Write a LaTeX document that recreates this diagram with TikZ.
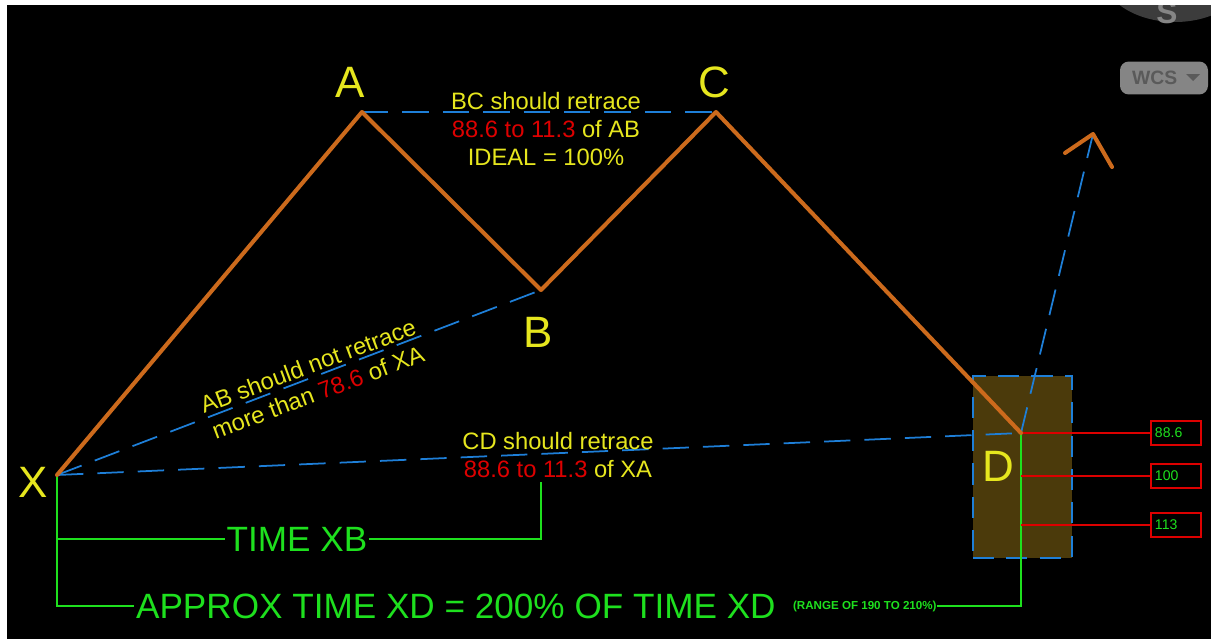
\documentclass[tikz,border=0pt]{standalone}
\usepackage{fontspec}
\setmainfont{Liberation Sans}
\usepackage{tikz}
\usetikzlibrary{positioning, arrows.meta, calc}
\definecolor{legorange}{HTML}{CC6A1C}
\definecolor{guideblue}{HTML}{1E7FD8}
\definecolor{labelyellow}{HTML}{E6E61E}
\definecolor{ratiored}{HTML}{DD0000}
\definecolor{timegreen}{HTML}{1EE01E}
\definecolor{zonebrown}{HTML}{4B3A0B}
\definecolor{uidark}{HTML}{3C3C3C}
\definecolor{uibtn}{HTML}{858585}
\definecolor{uitext}{HTML}{5A5A5A}

\newcommand{\rd}[1]{\textcolor{ratiored}{#1}}

\begin{document}
\begin{tikzpicture}[x=0.02cm, y=-0.02cm,
    leg/.style={draw=legorange, line width=2.3pt, line cap=round, line join=round},
    guide/.style={draw=guideblue, line width=1pt, dash pattern=on 15pt off 8pt},
    pointlbl/.style={text=labelyellow, font=\fontsize{25}{25}\selectfont, inner sep=0pt},
    note/.style={text=labelyellow, font=\fontsize{13.5}{16}\selectfont, align=center, inner sep=0pt},
    timeline/.style={draw=timegreen, line width=1.1pt},
    timelbl/.style={text=timegreen, font=\fontsize{20}{20}\selectfont, inner sep=1pt},
    level/.style={draw=ratiored, line width=1.1pt},
    levelbox/.style={draw=ratiored, line width=1.1pt, anchor=west, text width=0.84cm,
      inner xsep=0.08cm, minimum height=0.48cm, align=left, text=timegreen,
      font=\fontsize{8}{8}\selectfont}]
  % page and screen
  \useasboundingbox (0,0) rectangle (1211,639);
  \fill[white] (0,0) rectangle (1211,639);
  \fill[black] (7,5) rectangle (1211,639);

  % viewer widgets, top right
  \begin{scope}
    \clip (7,5) rectangle (1211,639);
    \fill[uidark] (1175,-30) ellipse [x radius=75, y radius=52];
    \node[text=uibtn, font=\bfseries\fontsize{18}{18}\selectfont] (compass) at (1167,13) {S};
  \end{scope}
  \node[fill=uibtn, rounded corners=5pt, minimum width=1.76cm, minimum height=0.66cm] (wcs) at (1164,78) {};
  \node[text=uitext, font=\fontsize{11}{11}\selectfont\bfseries, anchor=west] (wcstxt) at (1126,78) {WCS};
  \fill[uitext] (1186,74) -- (1200,74) -- (1193,81) -- cycle;

  % swing points
  \coordinate (X) at (57,475);
  \coordinate (A) at (362,112);
  \coordinate (B) at (541,290);
  \coordinate (C) at (716,112);
  \coordinate (D) at (1021,433);
  \coordinate (tip) at (1093,134);

  % D completion zone
  \node[draw=guideblue, line width=1pt, dash pattern=on 12pt off 7pt, fill=zonebrown,
        minimum width=1.98cm, minimum height=3.64cm, inner sep=0pt] (zone) at (1022.5,467) {};

  % retracement guides
  \draw[guide] (A) -- (C);
  \draw[guide] (X) -- (B);
  \draw[guide] (X) -- (D);
  \draw[guide] (D) -- (tip);

  % time measures
  \node[timelbl] (timexb) at (297,539) {TIME XB};
  \node[timelbl, anchor=west] (approx) at (134,606) {APPROX TIME XD = 200\% OF TIME XD};
  \node[text=timegreen, font=\bfseries\fontsize{6.6}{6.6}\selectfont, inner sep=0pt,
        right=0.3cm of approx] (range) {(RANGE OF 190 TO 210\%)};
  \draw[timeline] (X) |- (timexb.west);
  \draw[timeline] (timexb.east) -| (541,482);
  \draw[timeline] (X) |- (approx.west);
  \draw[timeline] (range.east) -| (D);

  % ratio levels
  \node[levelbox] (lv886) at (1150,433) {88.6};
  \node[levelbox] (lv100) at (1150,476) {100};
  \node[levelbox] (lv113) at (1150,525) {113};
  \draw[level] (D) -- (lv886.west);
  \draw[level] (1021,476) -- (lv100.west);
  \draw[level] (1021,525) -- (lv113.west);

  % the pattern legs
  \draw[leg] (X) -- (A) -- (B) -- (C) -- (D);
  \draw[leg] (1065,153) -- (tip) -- (1112,167);

  % point names
  \node[pointlbl] (xlbl) at (33,482) {X};
  \node[pointlbl] (albl) at (350,82) {A};
  \node[pointlbl] (blbl) at (538,332) {B};
  \node[pointlbl] (clbl) at (714,82) {C};
  \node[pointlbl] (dlbl) at (998,466) {D};

  % rules
  \node[note] (bcnote) at (546,129) {BC should retrace\\ \rd{88.6 to 11.3} of AB\\ IDEAL = 100\%};
  \node[note, rotate=20.5] (abnote) at (313,379) {AB should not retrace\\ more than \rd{78.6} of XA};
  \node[note] (cdnote) at (558,455) {CD should retrace\\ \rd{88.6 to 11.3} of XA};
\end{tikzpicture}
\end{document}
